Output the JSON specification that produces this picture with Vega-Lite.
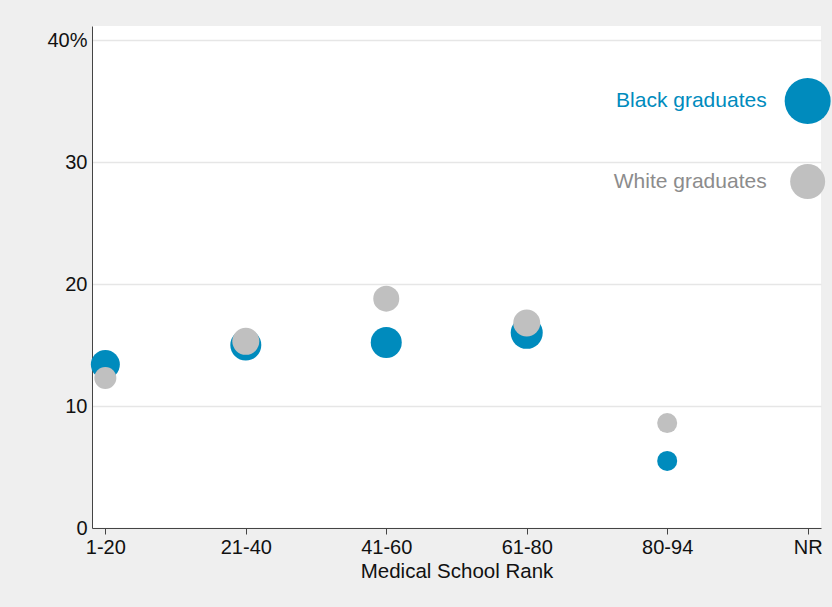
{
  "$schema": "https://vega.github.io/schema/vega-lite/v6.json",
  "width": 729,
  "height": 502,
  "autosize": {"type": "none"},
  "padding": {"left": 92, "top": 26, "right": 11, "bottom": 79},
  "background": "#efefef",
  "config": {
    "view": {"fill": "white", "stroke": null},
    "font": "Liberation Sans"
  },
  "data": {
    "values": [
      {"rank": "1-20", "group": "Black graduates", "pct": 13.4, "n": 841},
      {"rank": "21-40", "group": "Black graduates", "pct": 15.0, "n": 961},
      {"rank": "41-60", "group": "Black graduates", "pct": 15.2, "n": 961},
      {"rank": "61-80", "group": "Black graduates", "pct": 16.0, "n": 1024},
      {"rank": "80-94", "group": "Black graduates", "pct": 5.5, "n": 400},
      {"rank": "NR", "group": "Black graduates", "pct": 35.0, "n": 2116},
      {"rank": "1-20", "group": "White graduates", "pct": 12.3, "n": 484},
      {"rank": "21-40", "group": "White graduates", "pct": 15.3, "n": 729},
      {"rank": "41-60", "group": "White graduates", "pct": 18.8, "n": 676},
      {"rank": "61-80", "group": "White graduates", "pct": 16.8, "n": 729},
      {"rank": "80-94", "group": "White graduates", "pct": 8.6, "n": 400},
      {"rank": "NR", "group": "White graduates", "pct": 28.4, "n": 1225}
    ]
  },
  "encoding": {
    "x": {
      "field": "rank",
      "type": "ordinal",
      "sort": ["1-20", "21-40", "41-60", "61-80", "80-94", "NR"],
      "scale": {"type": "point", "padding": 0.095},
      "axis": {
        "title": "Medical School Rank",
        "titleFontSize": 20.5,
        "titleFontWeight": "normal",
        "titleColor": "#111",
        "titlePadding": 4,
        "labelFontSize": 20,
        "labelColor": "#111",
        "labelAngle": 0,
        "labelPadding": 3,
        "domainColor": "#444",
        "tickColor": "#444",
        "tickSize": 6,
        "grid": false
      }
    },
    "y": {
      "field": "pct",
      "type": "quantitative",
      "scale": {"domain": [0, 41.15], "nice": false, "zero": true},
      "axis": {
        "title": null,
        "values": [0, 10, 20, 30, 40],
        "labelExpr": "datum.value == 40 ? '40%' : datum.label",
        "labelFontSize": 20,
        "labelColor": "#111",
        "labelPadding": 5,
        "ticks": false,
        "domainColor": "#444",
        "grid": true,
        "gridColor": "#e6e6e6",
        "gridWidth": 1.5
      }
    }
  },
  "layer": [
    {
      "mark": {"type": "point", "shape": "circle", "filled": true, "opacity": 1, "strokeWidth": 0},
      "encoding": {
        "size": {"field": "n", "type": "quantitative", "scale": {"type": "linear", "domain": [0, 2500], "range": [0, 2500], "zero": true}, "legend": null},
        "color": {"field": "group", "type": "nominal", "scale": {"domain": ["Black graduates", "White graduates"], "range": ["#008bbd", "#c0c0c0"]}, "legend": null}
      }
    },
    {
      "transform": [{"filter": "datum.rank == 'NR'"}],
      "mark": {"type": "text", "align": "right", "baseline": "middle", "dx": -41, "fontSize": 21},
      "encoding": {
        "text": {"field": "group"},
        "color": {"field": "group", "type": "nominal", "scale": {"domain": ["Black graduates", "White graduates"], "range": ["#008bbd", "#8c8c8c"]}, "legend": null}
      }
    }
  ],
  "resolve": {"scale": {"color": "independent"}}
}
